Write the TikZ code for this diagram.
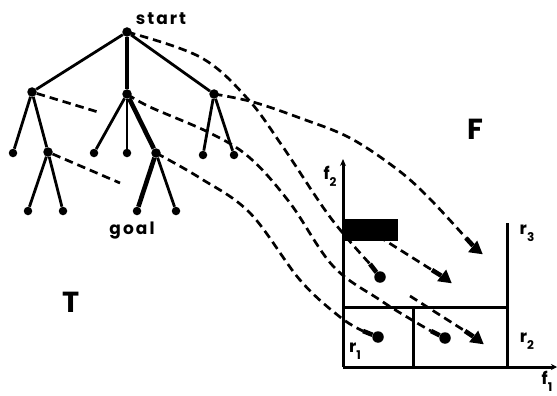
\documentclass[tikz,border=0pt]{standalone}
\usepackage{fontspec}
\setmainfont{Poppins}
\newfontfamily\labfont{Poppins}[LetterSpace=12]
\usetikzlibrary{arrows.meta,shapes.geometric}
\begin{document}
\begin{tikzpicture}[x=1pt,y=-1pt,
  inner/.style={circle,fill,inner sep=0pt,minimum size=9.5pt},
  leaf/.style={circle,fill,inner sep=0pt,minimum size=8.5pt},
  edge/.style={line width=2.8pt},
  mainedge/.style={line width=4.6pt},
  flow/.style={line width=2.7pt,dash pattern=on 8.5pt off 5pt},
  shaft/.style={line width=4.6pt},
  hdot/.style={circle,fill,inner sep=0pt,minimum size=11.5pt},
  htri/.style={regular polygon,regular polygon sides=3,fill,inner sep=0pt,minimum size=17pt,rotate=-8},
  axisline/.style={line width=3pt},
  lab/.style={font=\labfont\bfseries\fontsize{17}{17}\selectfont,inner sep=0pt},
  big/.style={font=\labfont\bfseries\fontsize{29}{29}\selectfont,inner sep=0pt},
  ax/.style={font=\bfseries\fontsize{17}{17}\selectfont,inner sep=0pt}
]
\useasboundingbox (0,0) rectangle (557,396);

% tree nodes
\node[inner] (R) at (127,32) {};
\node[inner] (A) at (32,92) {};
\node[inner] (B) at (127,94) {};
\node[inner] (C) at (214,94) {};
\node[leaf] (a1) at (13,153) {};
\node[inner] (D) at (48,152) {};
\node[leaf] (d1) at (28,211) {};
\node[leaf] (d2) at (63,211) {};
\node[leaf] (b1) at (94,153) {};
\node[leaf] (b2) at (127,153) {};
\node[inner] (E) at (156,153) {};
\node[leaf] (G) at (137,211) {};
\node[leaf] (e2) at (176,211) {};
\node[leaf] (c1) at (203,155) {};
\node[leaf] (c2) at (234,155) {};

% tree edges
\draw[edge] (R) -- (A);
\draw[edge] (R) -- (C);
\draw[edge] (A) -- (a1);
\draw[edge] (A) -- (D);
\draw[edge] (D) -- (d1);
\draw[edge] (D) -- (d2);
\draw[edge] (B) -- (b1);
\draw[edge] (B) -- (b2);
\draw[edge] (E) -- (e2);
\draw[edge] (C) -- (c1);
\draw[edge] (C) -- (c2);
\draw[mainedge] (R) -- (B);
\draw[mainedge] (B) -- (E);
\draw[mainedge] (E) -- (G);

% labels
\node[lab] (lstart) at (161,19) {start};
\node[lab] (lgoal) at (132,231) {goal};
\node[big] (lT) at (71,302) {T};
\node[big] (lF) at (475,129) {F};

% feature space
\coordinate (O) at (343,367);
\coordinate (Yt) at (343,159);
\coordinate (Xt) at (557,367);
\coordinate (Vt) at (507,223);
\coordinate (Vb) at (507,367);
\coordinate (Hl) at (343,307);
\coordinate (Hr) at (507,307);
\coordinate (Mt) at (413,307);
\coordinate (Mb) at (413,367);
\draw[axisline,-{Stealth[length=7pt,width=6pt]}] (O) -- (Yt);
\draw[axisline,-{Stealth[length=6pt,width=6pt]}] (O) -- (Xt);
\draw[axisline] (Vb) -- (Vt);
\draw[axisline] (Hl) -- (Hr);
\draw[axisline] (Mb) -- (Mt);
\node[fill,inner sep=0pt,minimum width=54pt,minimum height=22pt,anchor=north west] (bar) at (344,219) {};

\node[ax] (lf2) at (330,176) {f\raisebox{-0.4em}{\fontsize{12}{12}\selectfont 2}};
\node[ax] (lr3) at (527,233) {r\raisebox{-0.4em}{\fontsize{12}{12}\selectfont 3}};
\node[ax] (lr2) at (527,341) {r\raisebox{-0.4em}{\fontsize{12}{12}\selectfont 2}};
\node[ax] (lr1) at (355,351) {r\raisebox{-0.4em}{\fontsize{12}{12}\selectfont 1}};
\node[ax] (lf1) at (547,381) {f\raisebox{-0.4em}{\fontsize{12}{12}\selectfont 1}};

% dashed stubs
\coordinate (sA) at (98,112);
\coordinate (sD) at (120,183);
\draw[flow] (A) -- (sA);
\draw[flow] (D) -- (sD);

% heads
\node[hdot] (ha) at (380,277) {};
\node[hdot] (hb) at (445,338) {};
\node[hdot] (hc) at (378,337) {};
\node[htri] (hC) at (476,249) {};
\node[htri] (h1) at (445,278) {};
\node[htri] (h2) at (477,339) {};

\coordinate (pa) at (370,264);
\coordinate (pb) at (431,331);
\coordinate (pc) at (363,331);
\coordinate (pC) at (466,238);
\coordinate (p1) at (432,270);
\coordinate (p2) at (465,331);
\coordinate (s1) at (378,236);
\coordinate (s2) at (410,296);

% curves
\draw[flow] plot[smooth,tension=0.6] coordinates {(R) (200,57) (247,98) (283,147) (330,217) (pa)};
\draw[flow] plot[smooth,tension=0.6] coordinates {(B) (150,107) (210,133) (250,158) (290,203) (333,266) (380,300) (412,320) (pb)};
\draw[flow] plot[smooth,tension=0.6] coordinates {(E) (200,178) (250,213) (300,280) (340,317) (pc)};
\draw[flow] plot[smooth,tension=0.6] coordinates {(C) (253,102) (300,118) (350,138) (398,170) (430,199) (pC)};
\draw[flow] (s1) -- (p1);
\draw[flow] (s2) -- (p2);

\draw[shaft] (pa) -- (ha);
\draw[shaft] (pb) -- (hb);
\draw[shaft] (pc) -- (hc);
\draw[shaft] (pC) -- (hC);
\draw[shaft] (p1) -- (h1);
\draw[shaft] (p2) -- (h2);
\end{tikzpicture}
\end{document}
